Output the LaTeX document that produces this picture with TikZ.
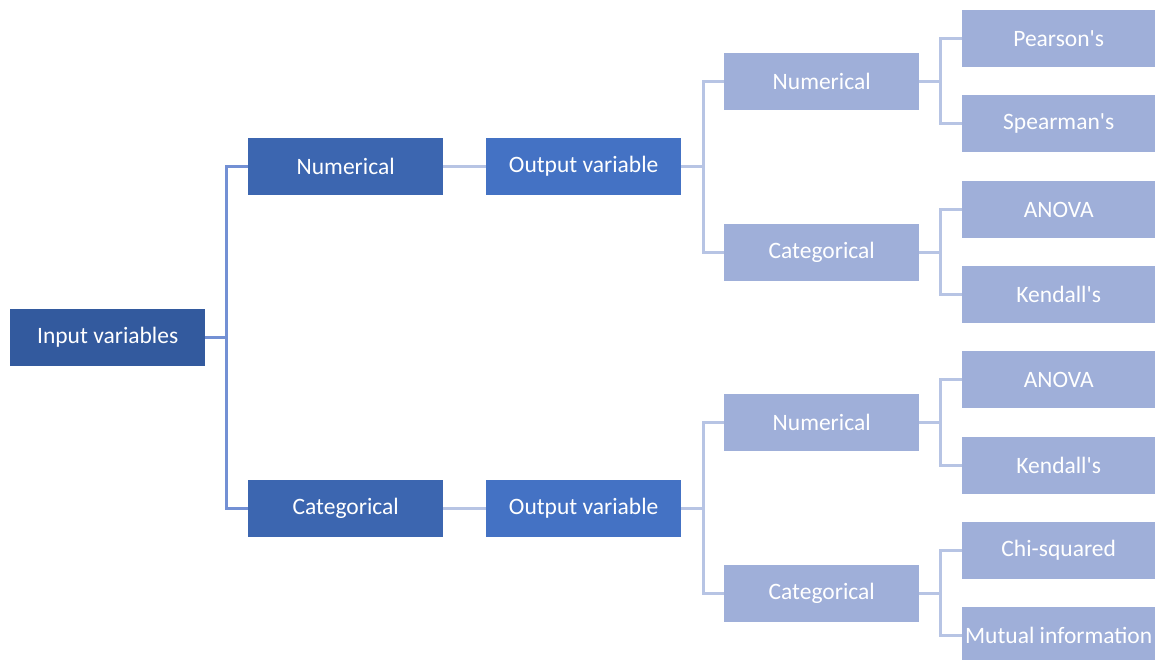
\documentclass[tikz,border=0pt]{standalone}
\usepackage{fontspec}
\setmainfont{Carlito}
\definecolor{cIn}{HTML}{335A9E}
\definecolor{cL1}{HTML}{3C66B0}
\definecolor{cOut}{HTML}{4472C4}
\definecolor{cLt}{HTML}{9FAFD9}
\definecolor{cLn0}{HTML}{7390D4}
\definecolor{cLn}{HTML}{B7C4E4}
\tikzset{
  box/.style={minimum width=195pt, minimum height=57pt, inner sep=0pt, text=white, font=\fontsize{23.5}{28}\selectfont, anchor=north west},
  inbox/.style={box, fill=cIn},
  lonebox/.style={box, fill=cL1},
  outbox/.style={box, fill=cOut},
  ltbox/.style={box, fill=cLt, minimum width=193pt},
  conn0/.style={draw=cLn0, line width=3pt},
  conn/.style={draw=cLn, line width=2.6pt},
}
\begin{document}
\begin{tikzpicture}[x=1pt,y=-1pt]
\useasboundingbox (0,0) rectangle (1155,660);
\node[inbox] (in) at (10,309) {Input variables};
\node[lonebox] (num) at (248,138) {Numerical};
\node[lonebox] (cat) at (248,480) {Categorical};
\node[outbox] (o1) at (486,138) {Output variable};
\node[outbox] (o2) at (486,480) {Output variable};
\node[ltbox, minimum width=195pt] (n1) at (724,53) {Numerical};
\node[ltbox, minimum width=195pt] (c1) at (724,224) {Categorical};
\node[ltbox, minimum width=195pt] (n2) at (724,394) {Numerical};
\node[ltbox, minimum width=195pt] (c2) at (724,565) {Categorical};
\node[ltbox] (p) at (962,10) {Pearson\textquotesingle s};
\node[ltbox] (s) at (962,95) {Spearman\textquotesingle s};
\node[ltbox] (a1) at (962,181) {ANOVA};
\node[ltbox] (k1) at (962,266) {Kendall\textquotesingle s};
\node[ltbox] (a2) at (962,351) {ANOVA};
\node[ltbox] (k2) at (962,437) {Kendall\textquotesingle s};
\node[ltbox] (chi) at (962,522) {Chi-squared};
\node[ltbox] (mi) at (962,607) {Mutual information};
% level 0
\draw[conn0] (in.east) -- ++(21,0) |- (num.west);
\draw[conn0] (in.east) -- ++(21,0) |- (cat.west);
% level 1
\draw[conn] (num.east) -- (o1.west);
\draw[conn] (cat.east) -- (o2.west);
% level 2
\draw[conn] (o1.east) -- ++(22,0) |- (n1.west);
\draw[conn] (o1.east) -- ++(22,0) |- (c1.west);
\draw[conn] (o2.east) -- ++(22,0) |- (n2.west);
\draw[conn] (o2.east) -- ++(22,0) |- (c2.west);
% level 3
\draw[conn] (n1.east) -- ++(21,0) |- (p.west);
\draw[conn] (n1.east) -- ++(21,0) |- (s.west);
\draw[conn] (c1.east) -- ++(21,0) |- (a1.west);
\draw[conn] (c1.east) -- ++(21,0) |- (k1.west);
\draw[conn] (n2.east) -- ++(21,0) |- (a2.west);
\draw[conn] (n2.east) -- ++(21,0) |- (k2.west);
\draw[conn] (c2.east) -- ++(21,0) |- (chi.west);
\draw[conn] (c2.east) -- ++(21,0) |- (mi.west);
\end{tikzpicture}
\end{document}
